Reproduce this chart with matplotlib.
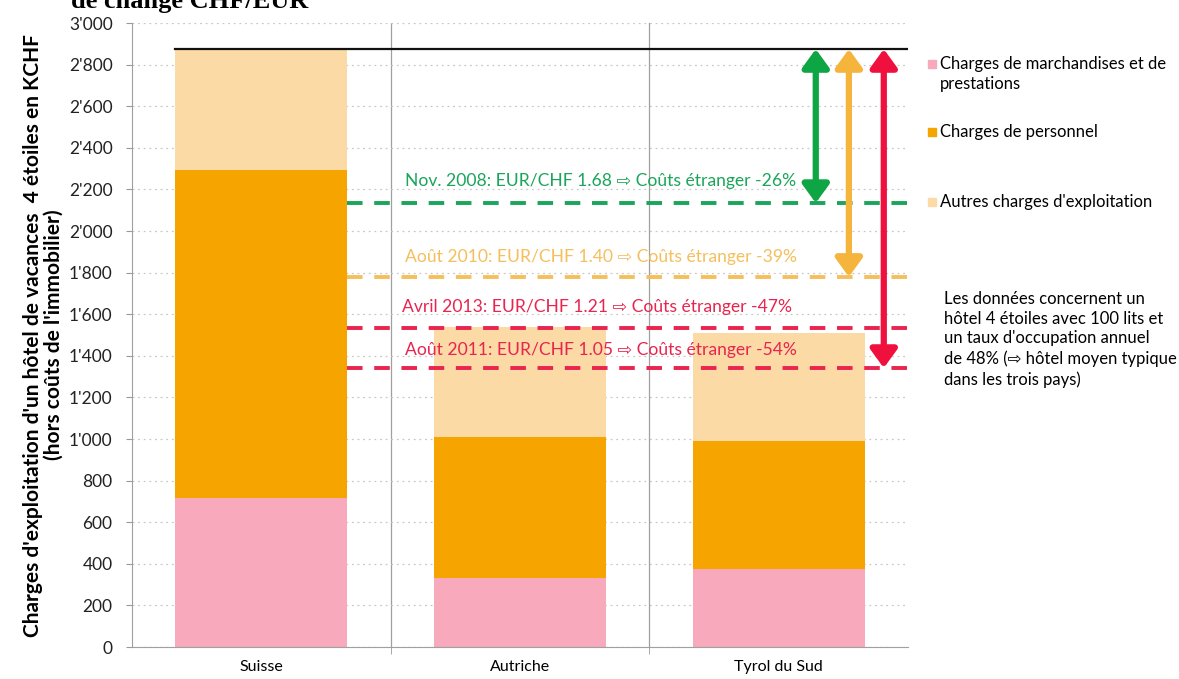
import matplotlib
matplotlib.use("Agg")
import matplotlib.pyplot as plt
from matplotlib.patches import Rectangle
from matplotlib.ticker import FuncFormatter

plt.rcParams['font.family'] = ['Lato', 'DejaVu Sans']

# donnees
pays = ["Suisse", "Autriche", "Tyrol du Sud"]
marchandises = [715, 332, 375]
personnel = [1578, 678, 615]
autres = [582, 530, 520]
series_noms = ["Charges de marchandises et de\nprestations", "Charges de personnel",
               "Autres charges d'exploitation"]
couleurs = ["#f8a9bb", "#f6a500", "#fbdaa6"]

niveau_suisse = 2875
niveaux = [2135, 1780, 1535, 1342]
textes = ["Nov. 2008: EUR/CHF 1.68 \u21e8 Co\u00fbts \u00e9tranger -26%",
          "Ao\u00fbt 2010: EUR/CHF 1.40 \u21e8 Co\u00fbts \u00e9tranger -39%",
          "Avril 2013: EUR/CHF 1.21 \u21e8 Co\u00fbts \u00e9tranger -47%",
          "Ao\u00fbt 2011: EUR/CHF 1.05 \u21e8 Co\u00fbts \u00e9tranger -54%"]
couleurs_niv = ["#1aa55a", "#f5bf5c", "#e8244f", "#e8244f"]
fleches_x = [2.144, 2.272, 2.407]
fleches_bas = [2135, 1780, 1342]
fleches_col = ["#0ea544", "#f5b43c", "#f0103e"]

W, H = 1179, 679
fig = plt.figure(figsize=(W / 100, H / 100), dpi=100)
ax = fig.add_axes([0.112, 0.047, 0.658, 0.919])

x = list(range(len(pays)))
largeur = 0.665
bas = [0, 0, 0]
for vals, col, nom in zip([marchandises, personnel, autres], couleurs, series_noms):
    ax.bar(x, vals, largeur, bottom=bas, color=col, label=nom, zorder=2)
    bas = [b + v for b, v in zip(bas, vals)]

ax.set_xlim(-0.5, 2.5)
ax.set_ylim(0, 3000)
ax.set_yticks(range(0, 3001, 200))
ax.yaxis.set_major_formatter(FuncFormatter(lambda v, p: f"{int(v):,}".replace(",", "'")))
ax.set_xticks(x)
ax.set_xticklabels(pays, fontsize=11.5)
ax.set_xticks([0.5, 1.5], minor=True)
ax.tick_params(axis='x', which='major', length=0, pad=9)
ax.tick_params(axis='x', which='minor', length=5, color="#999999")
ax.tick_params(axis='y', labelsize=12.5, length=4, pad=10, color="#999999", labelcolor="#222222")
ax.grid(axis='y', linestyle=(0, (1.5, 3)), color="#c8c8c8", linewidth=0.9, zorder=0)
for b in [0.5, 1.5]:
    ax.axvline(b, color="#a0a0a0", linewidth=0.9, zorder=1)
for s in ["top", "right"]:
    ax.spines[s].set_visible(False)
for s in ["left", "bottom"]:
    ax.spines[s].set_color("#a0a0a0")

# ligne du niveau suisse
ax.plot([-largeur / 2, 2.5], [niveau_suisse, niveau_suisse], color="#111111", lw=1.6, zorder=4)

# lignes pointillees
for niv, col in zip(niveaux, couleurs_niv):
    ax.plot([largeur / 2, 2.5], [niv, niv], color=col, lw=2.8, dashes=(4, 3), zorder=3)

text_y = [2240, 1875, 1637, 1428]
text_x = [0.555, 0.555, 0.545, 0.555]
for tx, ty, t, col in zip(text_x, text_y, textes, couleurs_niv):
    ax.text(tx, ty, t, color=col, fontsize=12.6, va='center', ha='left', zorder=5)

# fleches
for fx, fb, col in zip(fleches_x, fleches_bas, fleches_col):
    ax.annotate("", xy=(fx, fb), xytext=(fx, niveau_suisse),
                arrowprops=dict(arrowstyle="<|-|>,head_width=0.4,head_length=0.55",
                                color=col, lw=4.5, mutation_scale=20,
                                shrinkA=0, shrinkB=0), zorder=6)

ax.set_ylabel("Charges d'exploitation d'un h\u00f4tel de vacances  4 \u00e9toiles en KCHF\n"
              "(hors co\u00fbts de l'immobilier)", fontsize=15, fontweight='bold',
              labelpad=4, linespacing=1.0)

# legende
leg_y = [64, 132, 202]
for yy, nom, col in zip(leg_y, series_noms, couleurs):
    fig.add_artist(Rectangle((928 / W, 1 - (yy + 4) / H), 8 / W, 8 / H,
                             transform=fig.transFigure, color=col))
    fig.text(940 / W, 1 - (yy - 8) / H, nom, fontsize=12, va='top', ha='left',
             linespacing=1.3, transform=fig.transFigure)

fig.text(0.801, 0.572, "Les donn\u00e9es concernent un\nh\u00f4tel 4 \u00e9toiles avec 100 lits et\n"
         "un taux d'occupation annuel\nde 48% (\u21e8 h\u00f4tel moyen typique\n"
         "dans les trois pays)", fontsize=12, va='top', ha='left', linespacing=1.3)

fig.text(0.06, 1 - 8 / H, "de change CHF/EUR", fontsize=19, fontweight='bold',
         family='Liberation Serif', va='baseline', ha='left')

fig.savefig("out.png", dpi=100)
